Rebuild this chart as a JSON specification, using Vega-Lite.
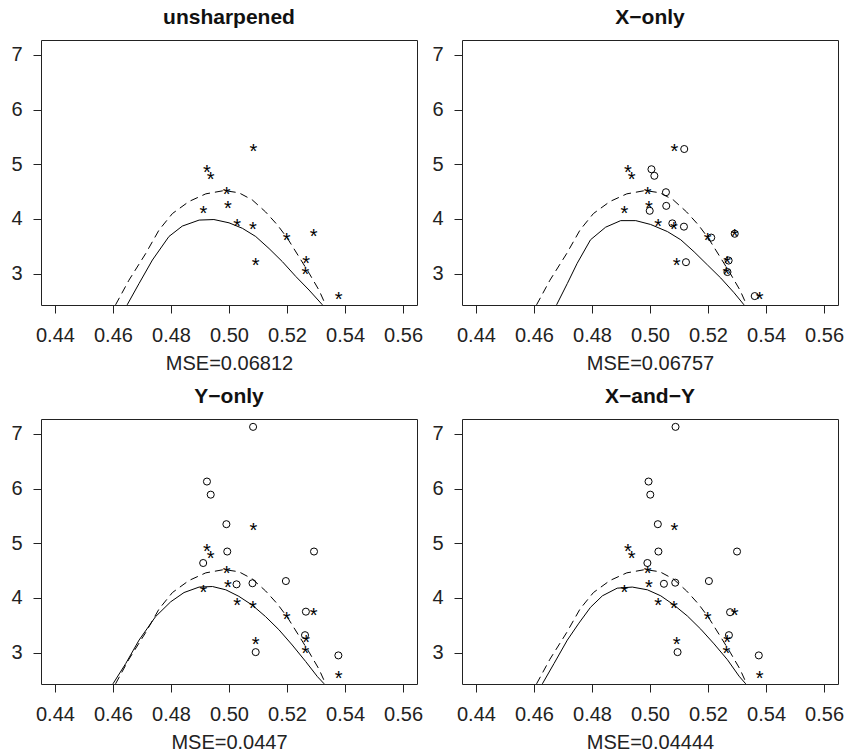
{
  "$schema": "https://vega.github.io/schema/vega-lite/v6.json",
  "background": "white",
  "padding": {"left": 10, "top": 6, "right": 2, "bottom": 5},
  "datasets": {
    "stars": [
      {"x": 0.5084, "y": 5.32}, {"x": 0.4924, "y": 4.94}, {"x": 0.4937, "y": 4.81},
      {"x": 0.4992, "y": 4.54}, {"x": 0.4912, "y": 4.19}, {"x": 0.4996, "y": 4.28},
      {"x": 0.5028, "y": 3.95}, {"x": 0.5082, "y": 3.90}, {"x": 0.5199, "y": 3.69},
      {"x": 0.5292, "y": 3.77}, {"x": 0.5092, "y": 3.24}, {"x": 0.5266, "y": 3.28},
      {"x": 0.5263, "y": 3.08}, {"x": 0.5378, "y": 2.62}
    ],
    "truth": [
      {"x": 0.4609, "y": 2.43}, {"x": 0.4655, "y": 2.88}, {"x": 0.4713, "y": 3.37},
      {"x": 0.4759, "y": 3.80}, {"x": 0.4805, "y": 4.10}, {"x": 0.4862, "y": 4.32},
      {"x": 0.4920, "y": 4.46}, {"x": 0.4983, "y": 4.52}, {"x": 0.5034, "y": 4.48},
      {"x": 0.5080, "y": 4.35}, {"x": 0.5126, "y": 4.13}, {"x": 0.5167, "y": 3.89},
      {"x": 0.5201, "y": 3.65}, {"x": 0.5241, "y": 3.31}, {"x": 0.5276, "y": 3.01},
      {"x": 0.5310, "y": 2.70}, {"x": 0.5333, "y": 2.43}
    ],
    "fits": [
      {"panel": "unsharpened", "x": 0.4649, "y": 2.43}, {"panel": "unsharpened", "x": 0.4690, "y": 2.82},
      {"panel": "unsharpened", "x": 0.4736, "y": 3.25}, {"panel": "unsharpened", "x": 0.4793, "y": 3.68},
      {"panel": "unsharpened", "x": 0.4839, "y": 3.87}, {"panel": "unsharpened", "x": 0.4897, "y": 3.98},
      {"panel": "unsharpened", "x": 0.4948, "y": 3.99}, {"panel": "unsharpened", "x": 0.5000, "y": 3.93},
      {"panel": "unsharpened", "x": 0.5046, "y": 3.83}, {"panel": "unsharpened", "x": 0.5092, "y": 3.68},
      {"panel": "unsharpened", "x": 0.5138, "y": 3.46}, {"panel": "unsharpened", "x": 0.5184, "y": 3.22},
      {"panel": "unsharpened", "x": 0.5230, "y": 2.95}, {"panel": "unsharpened", "x": 0.5276, "y": 2.70},
      {"panel": "unsharpened", "x": 0.5322, "y": 2.43},
      {"panel": "xonly", "x": 0.4678, "y": 2.43}, {"panel": "xonly", "x": 0.4715, "y": 2.82},
      {"panel": "xonly", "x": 0.4749, "y": 3.19}, {"panel": "xonly", "x": 0.4795, "y": 3.62},
      {"panel": "xonly", "x": 0.4847, "y": 3.85}, {"panel": "xonly", "x": 0.4899, "y": 3.97},
      {"panel": "xonly", "x": 0.4951, "y": 3.97}, {"panel": "xonly", "x": 0.5002, "y": 3.90},
      {"panel": "xonly", "x": 0.5060, "y": 3.77}, {"panel": "xonly", "x": 0.5106, "y": 3.62},
      {"panel": "xonly", "x": 0.5152, "y": 3.40}, {"panel": "xonly", "x": 0.5198, "y": 3.16},
      {"panel": "xonly", "x": 0.5244, "y": 2.92}, {"panel": "xonly", "x": 0.5290, "y": 2.65},
      {"panel": "xonly", "x": 0.5324, "y": 2.43},
      {"panel": "yonly", "x": 0.4600, "y": 2.43}, {"panel": "yonly", "x": 0.4644, "y": 2.80},
      {"panel": "yonly", "x": 0.4690, "y": 3.23}, {"panel": "yonly", "x": 0.4747, "y": 3.66},
      {"panel": "yonly", "x": 0.4799, "y": 3.93}, {"panel": "yonly", "x": 0.4845, "y": 4.10},
      {"panel": "yonly", "x": 0.4897, "y": 4.20}, {"panel": "yonly", "x": 0.4943, "y": 4.21},
      {"panel": "yonly", "x": 0.4989, "y": 4.15}, {"panel": "yonly", "x": 0.5034, "y": 4.03},
      {"panel": "yonly", "x": 0.5080, "y": 3.87}, {"panel": "yonly", "x": 0.5126, "y": 3.66},
      {"panel": "yonly", "x": 0.5172, "y": 3.42}, {"panel": "yonly", "x": 0.5218, "y": 3.14},
      {"panel": "yonly", "x": 0.5264, "y": 2.84}, {"panel": "yonly", "x": 0.5305, "y": 2.56},
      {"panel": "yonly", "x": 0.5328, "y": 2.43},
      {"panel": "xandy", "x": 0.4629, "y": 2.43}, {"panel": "xandy", "x": 0.4669, "y": 2.80},
      {"panel": "xandy", "x": 0.4715, "y": 3.23}, {"panel": "xandy", "x": 0.4755, "y": 3.54},
      {"panel": "xandy", "x": 0.4795, "y": 3.83}, {"panel": "xandy", "x": 0.4836, "y": 4.04},
      {"panel": "xandy", "x": 0.4887, "y": 4.18}, {"panel": "xandy", "x": 0.4939, "y": 4.20},
      {"panel": "xandy", "x": 0.4991, "y": 4.15}, {"panel": "xandy", "x": 0.5037, "y": 4.04},
      {"panel": "xandy", "x": 0.5083, "y": 3.87}, {"panel": "xandy", "x": 0.5129, "y": 3.67},
      {"panel": "xandy", "x": 0.5175, "y": 3.43}, {"panel": "xandy", "x": 0.5221, "y": 3.16},
      {"panel": "xandy", "x": 0.5267, "y": 2.87}, {"panel": "xandy", "x": 0.5307, "y": 2.57},
      {"panel": "xandy", "x": 0.5330, "y": 2.43}
    ],
    "circles": [
      {"panel": "xonly", "x": 0.5118, "y": 5.28}, {"panel": "xonly", "x": 0.5005, "y": 4.91},
      {"panel": "xonly", "x": 0.5015, "y": 4.79}, {"panel": "xonly", "x": 0.5055, "y": 4.49},
      {"panel": "xonly", "x": 0.5056, "y": 4.24}, {"panel": "xonly", "x": 0.4999, "y": 4.15},
      {"panel": "xonly", "x": 0.5077, "y": 3.92}, {"panel": "xonly", "x": 0.5117, "y": 3.86},
      {"panel": "xonly", "x": 0.5211, "y": 3.66}, {"panel": "xonly", "x": 0.5292, "y": 3.73},
      {"panel": "xonly", "x": 0.5124, "y": 3.21}, {"panel": "xonly", "x": 0.5271, "y": 3.24},
      {"panel": "xonly", "x": 0.5267, "y": 3.03}, {"panel": "xonly", "x": 0.5361, "y": 2.59},
      {"panel": "yonly", "x": 0.5083, "y": 7.13}, {"panel": "yonly", "x": 0.4924, "y": 6.13},
      {"panel": "yonly", "x": 0.4937, "y": 5.89}, {"panel": "yonly", "x": 0.4991, "y": 5.35},
      {"panel": "yonly", "x": 0.4994, "y": 4.85}, {"panel": "yonly", "x": 0.4911, "y": 4.64},
      {"panel": "yonly", "x": 0.5026, "y": 4.25}, {"panel": "yonly", "x": 0.5081, "y": 4.27},
      {"panel": "yonly", "x": 0.5196, "y": 4.31}, {"panel": "yonly", "x": 0.5293, "y": 4.85},
      {"panel": "yonly", "x": 0.5265, "y": 3.75}, {"panel": "yonly", "x": 0.5262, "y": 3.32},
      {"panel": "yonly", "x": 0.5092, "y": 3.01}, {"panel": "yonly", "x": 0.5377, "y": 2.95},
      {"panel": "xandy", "x": 0.5088, "y": 7.13}, {"panel": "xandy", "x": 0.4995, "y": 6.13},
      {"panel": "xandy", "x": 0.5001, "y": 5.89}, {"panel": "xandy", "x": 0.5027, "y": 5.35},
      {"panel": "xandy", "x": 0.5029, "y": 4.85}, {"panel": "xandy", "x": 0.4991, "y": 4.64},
      {"panel": "xandy", "x": 0.5048, "y": 4.26}, {"panel": "xandy", "x": 0.5087, "y": 4.28},
      {"panel": "xandy", "x": 0.5203, "y": 4.31}, {"panel": "xandy", "x": 0.5300, "y": 4.85},
      {"panel": "xandy", "x": 0.5276, "y": 3.74}, {"panel": "xandy", "x": 0.5272, "y": 3.32},
      {"panel": "xandy", "x": 0.5095, "y": 3.01}, {"panel": "xandy", "x": 0.5375, "y": 2.95}
    ]
  },
  "columns": 2,
  "bounds": "flush",
  "spacing": {"row": 114, "column": 45},
  "concat": [
    {
      "width": 376, "height": 265,
      "title": "unsharpened",
      "encoding": {
        "x": {"field": "x", "type": "quantitative", "scale": {"domain": [0.4352, 0.5648], "nice": false, "zero": false}, "axis": {"values": [0.44, 0.46, 0.48, 0.5, 0.52, 0.54, 0.56], "format": ".2f", "title": "MSE=0.06812"}},
        "y": {"field": "y", "type": "quantitative", "scale": {"domain": [2.427, 7.274], "nice": false, "zero": false}, "axis": {"values": [3, 4, 5, 6, 7], "title": null}}
      },
      "layer": [
        {"data": {"name": "truth"}, "mark": {"type": "line", "color": "black", "strokeWidth": 1, "strokeDash": [8, 5], "clip": true}, "encoding": {"order": {"field": "x"}}},
        {"data": {"name": "fits"}, "transform": [{"filter": "datum.panel === 'unsharpened'"}], "mark": {"type": "line", "color": "black", "strokeWidth": 1, "clip": true}, "encoding": {"order": {"field": "x"}}},
        {"data": {"name": "stars"}, "mark": {"type": "text", "text": "*", "fontSize": 20, "dy": 5.5, "color": "black", "font": "Liberation Sans"}}
      ]
    },
    {
      "width": 376, "height": 265,
      "title": "X−only",
      "encoding": {
        "x": {"field": "x", "type": "quantitative", "scale": {"domain": [0.4352, 0.5648], "nice": false, "zero": false}, "axis": {"values": [0.44, 0.46, 0.48, 0.5, 0.52, 0.54, 0.56], "format": ".2f", "title": "MSE=0.06757"}},
        "y": {"field": "y", "type": "quantitative", "scale": {"domain": [2.427, 7.274], "nice": false, "zero": false}, "axis": {"values": [3, 4, 5, 6, 7], "title": null}}
      },
      "layer": [
        {"data": {"name": "truth"}, "mark": {"type": "line", "color": "black", "strokeWidth": 1, "strokeDash": [8, 5], "clip": true}, "encoding": {"order": {"field": "x"}}},
        {"data": {"name": "fits"}, "transform": [{"filter": "datum.panel === 'xonly'"}], "mark": {"type": "line", "color": "black", "strokeWidth": 1, "clip": true}, "encoding": {"order": {"field": "x"}}},
        {"data": {"name": "stars"}, "mark": {"type": "text", "text": "*", "fontSize": 20, "dy": 5.5, "color": "black", "font": "Liberation Sans"}},
        {"data": {"name": "circles"}, "transform": [{"filter": "datum.panel === 'xonly'"}], "mark": {"type": "point", "shape": "circle", "size": 50, "filled": false, "stroke": "black", "strokeWidth": 1, "opacity": 1}}
      ]
    },
    {
      "width": 376, "height": 265,
      "title": "Y−only",
      "encoding": {
        "x": {"field": "x", "type": "quantitative", "scale": {"domain": [0.4352, 0.5648], "nice": false, "zero": false}, "axis": {"values": [0.44, 0.46, 0.48, 0.5, 0.52, 0.54, 0.56], "format": ".2f", "title": "MSE=0.0447"}},
        "y": {"field": "y", "type": "quantitative", "scale": {"domain": [2.427, 7.274], "nice": false, "zero": false}, "axis": {"values": [3, 4, 5, 6, 7], "title": null}}
      },
      "layer": [
        {"data": {"name": "truth"}, "mark": {"type": "line", "color": "black", "strokeWidth": 1, "strokeDash": [8, 5], "clip": true}, "encoding": {"order": {"field": "x"}}},
        {"data": {"name": "fits"}, "transform": [{"filter": "datum.panel === 'yonly'"}], "mark": {"type": "line", "color": "black", "strokeWidth": 1, "clip": true}, "encoding": {"order": {"field": "x"}}},
        {"data": {"name": "stars"}, "mark": {"type": "text", "text": "*", "fontSize": 20, "dy": 5.5, "color": "black", "font": "Liberation Sans"}},
        {"data": {"name": "circles"}, "transform": [{"filter": "datum.panel === 'yonly'"}], "mark": {"type": "point", "shape": "circle", "size": 50, "filled": false, "stroke": "black", "strokeWidth": 1, "opacity": 1}}
      ]
    },
    {
      "width": 376, "height": 265,
      "title": "X−and−Y",
      "encoding": {
        "x": {"field": "x", "type": "quantitative", "scale": {"domain": [0.4352, 0.5648], "nice": false, "zero": false}, "axis": {"values": [0.44, 0.46, 0.48, 0.5, 0.52, 0.54, 0.56], "format": ".2f", "title": "MSE=0.04444"}},
        "y": {"field": "y", "type": "quantitative", "scale": {"domain": [2.427, 7.274], "nice": false, "zero": false}, "axis": {"values": [3, 4, 5, 6, 7], "title": null}}
      },
      "layer": [
        {"data": {"name": "truth"}, "mark": {"type": "line", "color": "black", "strokeWidth": 1, "strokeDash": [8, 5], "clip": true}, "encoding": {"order": {"field": "x"}}},
        {"data": {"name": "fits"}, "transform": [{"filter": "datum.panel === 'xandy'"}], "mark": {"type": "line", "color": "black", "strokeWidth": 1, "clip": true}, "encoding": {"order": {"field": "x"}}},
        {"data": {"name": "stars"}, "mark": {"type": "text", "text": "*", "fontSize": 20, "dy": 5.5, "color": "black", "font": "Liberation Sans"}},
        {"data": {"name": "circles"}, "transform": [{"filter": "datum.panel === 'xandy'"}], "mark": {"type": "point", "shape": "circle", "size": 50, "filled": false, "stroke": "black", "strokeWidth": 1, "opacity": 1}}
      ]
    }
  ],
  "config": {
    "font": "Liberation Sans",
    "view": {"stroke": "#222222", "strokeWidth": 1},
    "axis": {
      "grid": false, "domain": false, "ticks": true, "tickColor": "#222222", "tickSize": 8, "tickWidth": 1,
      "labelFont": "Liberation Sans", "labelFontSize": 20, "labelColor": "#222222",
      "titleFont": "Liberation Sans", "titleFontSize": 20, "titleFontWeight": "normal", "titleColor": "#222222",
      "labelOverlap": false, "labelFlush": false
    },
    "axisX": {"labelPadding": 12, "titlePadding": 8},
    "axisY": {"labelPadding": 11},
    "title": {"font": "Liberation Sans", "fontSize": 21, "fontWeight": "bold", "color": "#111111", "offset": 12}
  }
}
